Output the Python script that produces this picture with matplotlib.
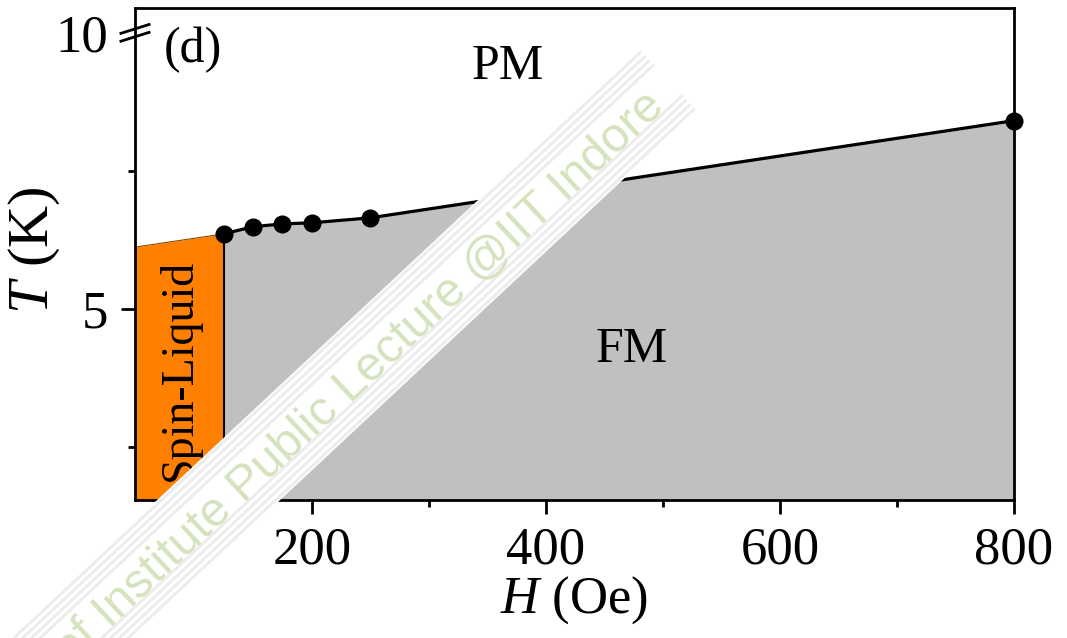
import numpy as np
import matplotlib.pyplot as plt
from matplotlib.patches import Polygon

plt.rcParams['font.family'] = ['Liberation Serif', 'DejaVu Serif']
plt.rcParams['mathtext.fontset'] = 'custom'
plt.rcParams['mathtext.it'] = 'Liberation Serif:italic'
plt.rcParams['mathtext.rm'] = 'Liberation Serif'

# phase boundary T_C(H)
H = [125, 150, 175, 200, 250, 800]
T = [6.36, 6.49, 6.54, 6.56, 6.65, 8.41]

# spin liquid region (left of first point)
H_sl = [49, 125]
T_sl = [6.12, 6.36]

x_min, x_max = 49, 800
y_min, y_max = 1.54, 10.45

fig = plt.figure(figsize=(10.67, 6.38), dpi=100)
ax = fig.add_axes([135 / 1067, 1 - 500 / 638, (1014 - 135) / 1067, (500 - 8) / 638])

ax.fill_between(H, T, y_min, color='#c0c0c0', lw=0, zorder=1)
ax.fill_between(H_sl, T_sl, y_min, color='#ff8000', lw=0, zorder=1)
ax.plot(H_sl, T_sl, color='#8a4a00', lw=0.8, zorder=2)
ax.plot([H_sl[1], H_sl[1]], [y_min, T_sl[1]], color='black', lw=1.5, zorder=2)
ax.plot(H, T, color='black', lw=2.3, marker='o', ms=12, zorder=3, clip_on=False)

ax.set_xlim(x_min, x_max)
ax.set_ylim(y_min, y_max)
ax.set_xticks([200, 400, 600, 800])
ax.set_xticks([300, 500, 700], minor=True)
ax.set_yticks([5, 10])
ax.set_yticks([2.5, 7.5], minor=True)
ax.tick_params(which='major', direction='out', length=10, width=2, labelsize=38, pad=9)
ax.tick_params(which='minor', direction='out', length=5, width=2)
ax.yaxis.get_major_ticks()[1].tick1line.set_visible(False)
for sp in ax.spines.values():
    sp.set_linewidth(2)

# axis break marks at T = 10
yb = (10 - y_min) / (y_max - y_min)
for dy in (-0.008, 0.008):
    ax.plot([-0.016, 0.016], [yb + dy - 0.009, yb + dy + 0.009], transform=ax.transAxes,
            color='black', lw=2, clip_on=False, zorder=5)

ax.set_xlabel('$H$ (Oe)', fontsize=38, labelpad=0)
ax.set_ylabel('$T$ (K)', fontsize=42)
ax.yaxis.set_label_coords(-0.083, 0.508)

ax.text(0.066, 0.915, '(d)', transform=ax.transAxes, fontsize=36, ha='center', va='center')
ax.text(0.424, 0.88, 'PM', transform=ax.transAxes, fontsize=36, ha='center', va='center')
ax.text(0.565, 0.305, 'FM', transform=ax.transAxes, fontsize=36, ha='center', va='center')
ax.text(87, 3.9, 'Spin-Liquid', fontsize=33, rotation=90, ha='center', va='center')

# watermark band
W, Hh = 1067, 638
d = np.array([321.0, -300.0])
d /= np.hypot(*d)
n = np.array([300.0, 321.0])
n /= np.hypot(*n)
p_end = np.array([667.0, 81.0])
p_start = p_end - d * 1000


def fig_pt(p):
    return (p[0] / W, 1 - p[1] / Hh)


hw = 42
band = Polygon([fig_pt(p_start + n * hw), fig_pt(p_end + n * hw),
                fig_pt(p_end - n * hw), fig_pt(p_start - n * hw)],
               closed=True, transform=fig.transFigure, facecolor='white',
               edgecolor='none', zorder=10)
fig.add_artist(band)
for off in [-39, -33, -27, -21, 21, 27, 33, 39]:
    a, b = fig_pt(p_start + n * off), fig_pt(p_end + n * off)
    fig.add_artist(plt.Line2D([a[0], b[0]], [a[1], b[1]], transform=fig.transFigure,
                              color='#ececec', lw=2, zorder=11))
ang = np.degrees(np.arctan2(300, 321))
fig.text(658 / W, 1 - 100 / Hh, 'of Institute Public Lecture @IIT Indore',
         family='Liberation Sans', fontsize=35, color='#d4e3bd', rotation=ang,
         rotation_mode='anchor', ha='right', va='center', zorder=12)

fig.savefig('out.png', dpi=100)
